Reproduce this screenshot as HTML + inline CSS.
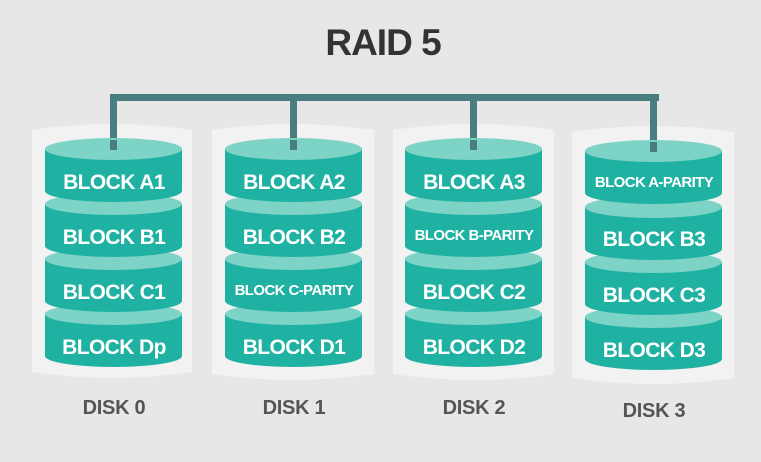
<!DOCTYPE html>
<html><head><meta charset="utf-8"><style>
html,body{margin:0;padding:0;background:#e7e7e7;}
svg{display:block}
</style></head><body>
<svg width="761" height="462" viewBox="0 0 761 462" xmlns="http://www.w3.org/2000/svg" font-family="Liberation Sans, sans-serif" font-weight="bold">
<rect width="761" height="462" fill="#e7e7e7"/>
<text x="383" y="55" text-anchor="middle" font-size="37" fill="#333" letter-spacing="-1">RAID 5</text>
<g fill="#f2f2f2">
<path d="M32,130 Q112,118 192,130 L192,372 Q112,384 32,372 Z"/>
<path d="M212,130 Q293,118 374,130 L374,374 Q293,386 212,374 Z"/>
<path d="M393,130 Q473,118 554,130 L554,374 Q473,386 393,374 Z"/>
<path d="M572,132 Q653,120 734,132 L734,378 Q653,390 572,378 Z"/>
</g>
<g fill="#4a7d80">
<rect x="110" y="94" width="549" height="7"/>
<rect x="110" y="94" width="7" height="56"/>
<rect x="290" y="94" width="7" height="56"/>
<rect x="470" y="94" width="7" height="56"/>
<rect x="650" y="94" width="7" height="56"/>
</g>
<defs>
<g id="cyl">
<path d="M0,11 L0,53 A68.5,11 0 0 0 137,53 L137,11 Z" fill="#1fb2a3"/>
<ellipse cx="68.5" cy="11" rx="68.5" ry="11" fill="#7dd3c6"/>
</g>
</defs>
<g>
<use href="#cyl" x="45" y="303"/><use href="#cyl" x="45" y="248"/><use href="#cyl" x="45" y="193"/><use href="#cyl" x="45" y="138"/>
</g>
<g>
<use href="#cyl" x="225" y="303"/><use href="#cyl" x="225" y="248"/><use href="#cyl" x="225" y="193"/><use href="#cyl" x="225" y="138"/>
</g>
<g>
<use href="#cyl" x="405" y="303"/><use href="#cyl" x="405" y="248"/><use href="#cyl" x="405" y="193"/><use href="#cyl" x="405" y="138"/>
</g>
<g>
<use href="#cyl" x="585" y="306"/><use href="#cyl" x="585" y="251"/><use href="#cyl" x="585" y="196"/><use href="#cyl" x="585" y="140"/>
</g>
<g fill="#4a7d80">
<rect x="110" y="140" width="7" height="10"/>
<rect x="290" y="140" width="7" height="10"/>
<rect x="470" y="140" width="7" height="10"/>
<rect x="650" y="142" width="7" height="10"/>
</g>
<g fill="#fff" text-anchor="middle" font-size="21" letter-spacing="-0.6">
<text x="114" y="189">BLOCK A1</text>
<text x="114" y="244">BLOCK B1</text>
<text x="114" y="299">BLOCK C1</text>
<text x="114" y="354">BLOCK Dp</text>
<text x="294" y="189">BLOCK A2</text>
<text x="294" y="244">BLOCK B2</text>
<text x="294" y="354">BLOCK D1</text>
<text x="474" y="189">BLOCK A3</text>
<text x="474" y="299">BLOCK C2</text>
<text x="474" y="354">BLOCK D2</text>
<text x="654" y="246">BLOCK B3</text>
<text x="654" y="302">BLOCK C3</text>
<text x="654" y="357">BLOCK D3</text>
</g>
<g fill="#fff" text-anchor="middle" font-size="15" letter-spacing="-0.6">
<text x="294" y="295">BLOCK C-PARITY</text>
<text x="474" y="240">BLOCK B-PARITY</text>
<text x="654" y="187">BLOCK A-PARITY</text>
</g>
<g fill="#555" text-anchor="middle" font-size="20" letter-spacing="-0.3">
<text x="114" y="414">DISK 0</text>
<text x="294" y="414">DISK 1</text>
<text x="474" y="414">DISK 2</text>
<text x="654" y="417">DISK 3</text>
</g>
</svg>
</body></html>
